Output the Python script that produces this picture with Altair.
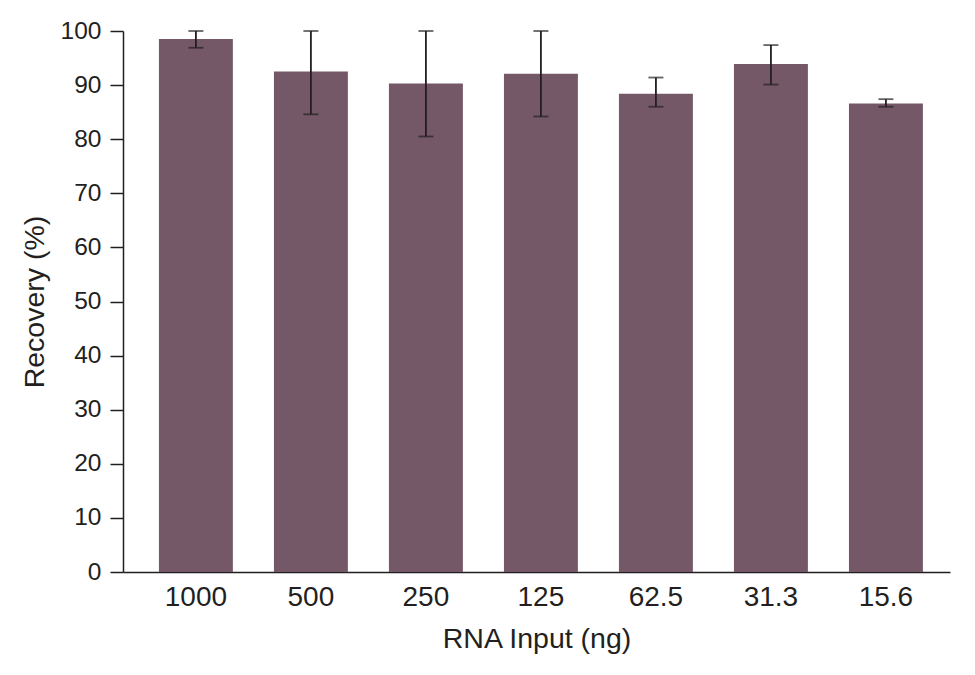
import altair as alt
import pandas as pd

rna_input = ["1000", "500", "250", "125", "62.5", "31.3", "15.6"]
recovery = [98.5, 92.5, 90.3, 92.1, 88.4, 93.9, 86.6]
err_low = [96.9, 84.6, 80.5, 84.2, 86.0, 90.1, 86.0]
err_high = [100.0, 100.0, 100.0, 100.0, 91.4, 97.4, 87.4]

df = pd.DataFrame({
    "input": rna_input,
    "recovery": recovery,
    "lo": err_low,
    "hi": err_high,
})

FONT = "Liberation Sans"
INK = "#231f20"

x_enc = alt.X(
    "input:N",
    sort=rna_input,
    title="RNA Input (ng)",
    scale=alt.Scale(paddingInner=0.357, paddingOuter=0.274, align=0.57),
    axis=alt.Axis(
        labelAngle=0, ticks=False, domainColor=INK, domainWidth=1.5,
        labelFontSize=28, labelPadding=11, labelColor=INK,
        titleFontSize=28.5, titleFontWeight="normal", titlePadding=13,
        titleColor=INK,
    ),
)

bars = alt.Chart(df).mark_bar(color="#745868").encode(
    x=x_enc,
    y=alt.Y(
        "recovery:Q",
        title="Recovery (%)",
        scale=alt.Scale(domain=[0, 100], nice=False),
        axis=alt.Axis(
            values=list(range(0, 101, 10)), grid=False, tickSize=13,
            tickWidth=1.5, tickColor=INK, domainColor=INK,
            domainWidth=1.5, labelFontSize=24.5, labelPadding=9,
            labelColor=INK, titleFontSize=28.5, titleFontWeight="normal",
            titlePadding=11, titleColor=INK,
        ),
    ),
)

rules = alt.Chart(df).mark_rule(color=INK, strokeWidth=1.8).encode(
    x=alt.X("input:N", sort=rna_input),
    y="lo:Q",
    y2="hi:Q",
)

caps_lo = alt.Chart(df).mark_tick(color=INK, thickness=1.8, size=15).encode(
    x=alt.X("input:N", sort=rna_input),
    y="lo:Q",
)
caps_hi = alt.Chart(df).mark_tick(color=INK, thickness=1.8, size=15).encode(
    x=alt.X("input:N", sort=rna_input),
    y="hi:Q",
)

chart = alt.layer(bars, rules, caps_lo, caps_hi).properties(
    width=827,
    height=541,
    autosize=alt.AutoSizeParams(type="none"),
    padding={"left": 115, "top": 23, "right": 10, "bottom": 90},
).configure(font=FONT).configure_view(stroke=None)

chart.save("out.html", embed_options={"renderer": "svg", "actions": False})
